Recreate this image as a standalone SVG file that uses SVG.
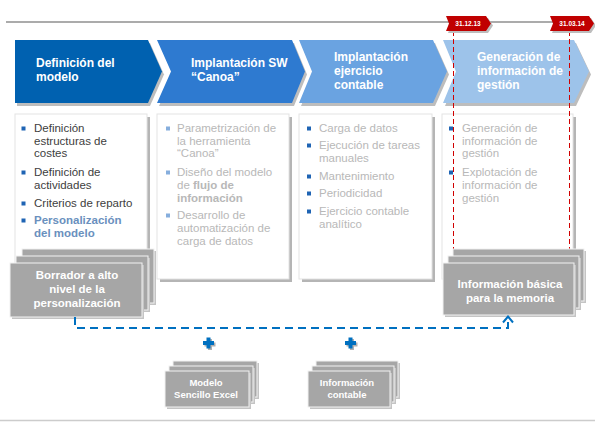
<svg xmlns="http://www.w3.org/2000/svg" width="595" height="422" viewBox="0 0 595 422">
<style>
text{font-family:"Liberation Sans",Arial,sans-serif}
.chv{font-size:12px;font-weight:bold;fill:#fff}
.sh{fill:#BDBDBD}
.box{fill:#fff;stroke:#E3E3E3;stroke-width:1}
.bsh{fill:#B5B5B5}
.t1{font-size:11.5px;fill:#404040}
.t2{font-size:11.5px;fill:#B8B8B8}
.hl{font-weight:bold;fill:#6A90BE}
.b{font-weight:bold}
.bul{fill:#1F64B4}
.bul2{fill:#86AEDD}
.stk{fill:#A6A6A6;stroke:#F2F2F2;stroke-width:1}
.ssh{fill:#C4C4C4}
.st{font-size:11.5px;font-weight:bold;fill:#fff;text-anchor:middle}
.sst{font-size:9.5px;font-weight:bold;fill:#fff;text-anchor:middle}
.flag{fill:#C00000}
.ft{font-size:6.5px;font-weight:bold;fill:#fff;text-anchor:middle}
.red{stroke:#D00000;stroke-width:1;stroke-dasharray:5,3;fill:none}
.plus{fill:#0070C0}
</style>
<defs>
<marker id="arr" markerWidth="10" markerHeight="12" refX="8" refY="6" orient="auto" markerUnits="userSpaceOnUse" viewBox="0 0 10 12">
<path d="M2,1 L8,6 L2,11" fill="none" stroke="#0070C0" stroke-width="2"/>
</marker>
</defs>

<line x1="6" y1="22" x2="560" y2="22" stroke="#595959" stroke-width="1.2"/>

<g id="chevron1">
<polygon class="sh" points="17,43 150,43 164,74.5 150,106 17,106"/>
<polygon fill="#0061B0" points="15,40 148,40 162,71.5 148,103 15,103"/>
<text class="chv" x="36" y="67">Definición del</text>
<text class="chv" x="36" y="81">modelo</text>
</g>
<g id="chevron2">
<polygon class="sh" points="159,43 294,43 307,74.5 294,106 159,106 173,74.5"/>
<polygon fill="#2E7AD0" points="157,40 292,40 305,71.5 292,103 157,103 171,71.5"/>
<text class="chv" x="191" y="67">Implantación SW</text>
<text class="chv" x="191" y="81">“Canoa”</text>
</g>
<g id="chevron3">
<polygon class="sh" points="301,43 435,43 449,74.5 435,106 301,106 314,74.5"/>
<polygon fill="#6AA3E1" points="299,40 433,40 447,71.5 433,103 299,103 312,71.5"/>
<text class="chv" x="334" y="61">Implantación</text>
<text class="chv" x="334" y="75">ejercicio</text>
<text class="chv" x="334" y="89">contable</text>
</g>
<g id="chevron4">
<polygon class="sh" points="445,43 576,43 591,74.5 576,106 445,106 458,74.5"/>
<polygon fill="#9DC3EA" points="443,40 574,40 589,71.5 574,103 443,103 456,71.5"/>
<text class="chv" x="477" y="61">Generación de</text>
<text class="chv" x="477" y="75">información de</text>
<text class="chv" x="477" y="89">gestión</text>
</g>

<g id="box1">
<rect class="bsh" x="18" y="117" width="132" height="166"/>
<rect class="box" x="15" y="114" width="132" height="166"/>
<rect class="bul" x="21.5" y="126.5" width="4" height="4"/>
<text class="t1" x="34" y="132">Definición</text>
<text class="t1" x="34" y="144.5">estructuras de</text>
<text class="t1" x="34" y="157">costes</text>
<rect class="bul" x="21.5" y="170.5" width="4" height="4"/>
<text class="t1" x="34" y="176">Definición de</text>
<text class="t1" x="34" y="189">actividades</text>
<rect class="bul" x="21.5" y="201.5" width="4" height="4"/>
<text class="t1" x="34" y="207">Criterios de reparto</text>
<rect class="bul" x="21.5" y="218.5" width="4" height="4"/>
<text class="t1 hl" x="34" y="224">Personalización</text>
<text class="t1 hl" x="34" y="237">del modelo</text>
</g>
<g id="box2">
<rect class="bsh" x="160" y="117" width="132" height="165"/>
<rect class="box" x="157" y="114" width="132" height="165"/>
<rect class="bul2" x="166" y="126.5" width="4" height="4"/>
<text class="t2" x="177" y="132">Parametrización de</text>
<text class="t2" x="177" y="144.5">la herramienta</text>
<text class="t2" x="177" y="157">“Canoa”</text>
<rect class="bul2" x="166" y="170.5" width="4" height="4"/>
<text class="t2" x="177" y="176">Diseño del modelo</text>
<text class="t2" x="177" y="189">de <tspan class="b">flujo de</tspan></text>
<text class="t2 b" x="177" y="202">información</text>
<rect class="bul2" x="166" y="213.5" width="4" height="4"/>
<text class="t2" x="177" y="219">Desarrollo de</text>
<text class="t2" x="177" y="232">automatización de</text>
<text class="t2" x="177" y="245">carga de datos</text>
</g>
<g id="box3">
<rect class="bsh" x="302" y="117" width="133" height="165"/>
<rect class="box" x="299" y="114" width="133" height="165"/>
<rect class="bul" x="307" y="126.5" width="4" height="4"/>
<text class="t2" x="319" y="132">Carga de datos</text>
<rect class="bul" x="307" y="143.5" width="4" height="4"/>
<text class="t2" x="319" y="149">Ejecución de tareas</text>
<text class="t2" x="319" y="161.5">manuales</text>
<rect class="bul" x="307" y="174.5" width="4" height="4"/>
<text class="t2" x="319" y="180">Mantenimiento</text>
<rect class="bul" x="307" y="191.5" width="4" height="4"/>
<text class="t2" x="319" y="197">Periodicidad</text>
<rect class="bul" x="307" y="209.5" width="4" height="4"/>
<text class="t2" x="319" y="215">Ejercicio contable</text>
<text class="t2" x="319" y="228">analítico</text>
</g>
<g id="box4">
<rect class="bsh" x="445" y="117" width="131" height="165"/>
<rect class="box" x="442" y="114" width="131" height="165"/>
<rect class="bul" x="449" y="126.5" width="4" height="4"/>
<text class="t2" x="462" y="132">Generación de</text>
<text class="t2" x="462" y="144.5">información de</text>
<text class="t2" x="462" y="157">gestión</text>
<rect class="bul" x="449" y="170.5" width="4" height="4"/>
<text class="t2" x="462" y="176">Explotación de</text>
<text class="t2" x="462" y="189">información de</text>
<text class="t2" x="462" y="202">gestión</text>
</g>

<g id="milestones">
<line class="red" x1="453.5" y1="31" x2="453.5" y2="263"/>
<line class="red" x1="569.5" y1="31" x2="569.5" y2="263"/>
<g id="flag1">
<polygon class="sh" points="448,18 488,18 493,25.5 488,33 448,33 451,25.5"/>
<polygon class="flag" points="446,16 486,16 491,23.5 486,31 446,31 449,23.5"/>
<text class="ft" x="468" y="26">31.12.13</text>
</g>
<g id="flag2">
<polygon class="sh" points="552,18 591,18 596,25.5 591,33 552,33 555,25.5"/>
<polygon class="flag" points="550,16 589,16 594,23.5 589,31 550,31 553,23.5"/>
<text class="ft" x="572" y="26">31.03.14</text>
</g>
</g>

<g id="stack-borrador">
<rect class="ssh" x="24" y="251" width="132" height="54"/>
<rect class="stk" x="22" y="249" width="132" height="54"/>
<rect class="ssh" x="18" y="258" width="132" height="54"/>
<rect class="stk" x="16" y="256" width="132" height="54"/>
<rect class="ssh" x="12" y="265" width="132" height="54"/>
<rect class="stk" x="10" y="263" width="132" height="54"/>
<text class="st" x="77" y="279">Borrador a alto</text>
<text class="st" x="77" y="293">nivel de la</text>
<text class="st" x="77" y="307">personalización</text>
</g>
<g id="stack-info">
<rect class="ssh" x="455" y="251" width="131" height="52"/>
<rect class="stk" x="453" y="249" width="131" height="52"/>
<rect class="ssh" x="450" y="258" width="131" height="52"/>
<rect class="stk" x="448" y="256" width="131" height="52"/>
<rect class="ssh" x="445" y="265" width="131" height="52"/>
<rect class="stk" x="443" y="263" width="131" height="52"/>
<text class="st" x="510" y="288">Información básica</text>
<text class="st" x="510" y="302">para la memoria</text>
</g>

<g id="connectors">
<path d="M75,317 V328 H508 V316.5" fill="none" stroke="#0070C0" stroke-width="2" stroke-dasharray="8,5" marker-end="url(#arr)"/>
</g>

<g id="plus1">
<path d="M204.5,342.5 h3.5 v-3.5 h4 v3.5 h3.5 v4 h-3.5 v3.5 h-4 v-3.5 h-3.5 z" fill="#B0B0B0"/>
<path d="M203,341 h3.5 v-3.5 h4 v3.5 h3.5 v4 h-3.5 v3.5 h-4 v-3.5 h-3.5 z" class="plus"/>
</g>
<g id="plus2">
<path d="M346.5,342.5 h3.5 v-3.5 h4 v3.5 h3.5 v4 h-3.5 v3.5 h-4 v-3.5 h-3.5 z" fill="#B0B0B0"/>
<path d="M345,341 h3.5 v-3.5 h4 v3.5 h3.5 v4 h-3.5 v3.5 h-4 v-3.5 h-3.5 z" class="plus"/>
</g>

<g id="stack-excel">
<rect class="ssh" x="175" y="363" width="84" height="36"/>
<rect class="stk" x="173" y="361" width="84" height="36"/>
<rect class="ssh" x="171" y="368" width="84" height="36"/>
<rect class="stk" x="169" y="366" width="84" height="36"/>
<rect class="ssh" x="167" y="373" width="84" height="36"/>
<rect class="stk" x="165" y="371" width="84" height="36"/>
<text class="sst" x="206" y="385.5">Modelo</text>
<text class="sst" x="206" y="397.5">Sencillo Excel</text>
</g>
<g id="stack-contable">
<rect class="ssh" x="318" y="363" width="82" height="36"/>
<rect class="stk" x="316" y="361" width="82" height="36"/>
<rect class="ssh" x="314" y="368" width="82" height="36"/>
<rect class="stk" x="312" y="366" width="82" height="36"/>
<rect class="ssh" x="310" y="373" width="82" height="36"/>
<rect class="stk" x="308" y="371" width="82" height="36"/>
<text class="sst" x="347" y="385.5">Información</text>
<text class="sst" x="347" y="397.5">contable</text>
</g>

<line x1="0" y1="420.5" x2="595" y2="420.5" stroke="#CCCCCC" stroke-width="1.5"/>
</svg>
